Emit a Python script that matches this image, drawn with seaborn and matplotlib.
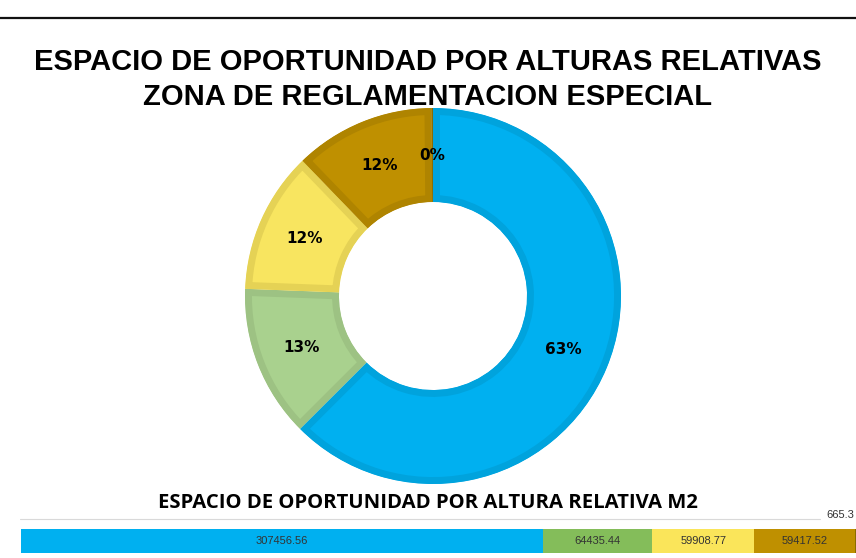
import matplotlib
matplotlib.use("Agg")
import matplotlib.pyplot as plt
from matplotlib.lines import Line2D
import seaborn as sns

# data
categories = ["A", "B", "C", "D", "E"]
areas_m2 = [307456.56, 64435.44, 59908.77, 59417.52, 665.3]
bar_labels = ["307456.56", "64435.44", "59908.77", "59417.52", "665.3"]

pie_fill = ["#00B0F0", "#A9D18E", "#F8E560", "#BF9000", "#9C7A00"]
pie_edge = ["#00A3DD", "#9DC283", "#E5D255", "#AF8400", "#8A6C00"]
strip_colors = ["#00B0F0", "#84BD5A", "#FAE55A", "#BF9000", "#8A6C00"]

sns.set_theme(style="white")
plt.rcParams["font.family"] = ["Liberation Sans", "DejaVu Sans"]

W, H = 856, 558
fig = plt.figure(figsize=(W / 100, H / 100), dpi=100)
fig.patch.set_facecolor("white")

# top rule
fig.add_artist(Line2D([0, 1], [1 - 18 / H, 1 - 18 / H], color="#111111", lw=1.6,
                      transform=fig.transFigure))

for yy, line in [(62, "ESPACIO DE OPORTUNIDAD POR ALTURAS RELATIVAS"),
                 (97, "ZONA DE REGLAMENTACION ESPECIAL")]:
    fig.text(0.5, 1 - yy / H, line, ha="center", va="center", fontsize=21,
             fontweight="bold", color="black")

# donut
cx, cy, r = 433, 296, 188
ax = fig.add_axes([(cx - r) / W, (H - cy - r) / H, 2 * r / W, 2 * r / H])
total = sum(areas_m2)
wedges, texts, autotexts = ax.pie(
    areas_m2, colors=pie_fill, startangle=90, counterclock=False,
    radius=1.0, pctdistance=0.75,
    autopct=lambda p: f"{p:.0f}%",
    wedgeprops=dict(width=0.5, linewidth=10),
    textprops=dict(fontsize=11, fontweight="bold", color="black",
                   family=["DejaVu Sans"]))
for w, ec in zip(wedges, pie_edge):
    w.set_edgecolor(ec)
    w.set_clip_on(True)
    w.set_clip_path(w)
ax.set_xlim(-1, 1)
ax.set_ylim(-1, 1)
ax.axis("off")

# subtitle
fig.text(0.5, 1 - 503 / H, "ESPACIO DE OPORTUNIDAD POR ALTURA RELATIVA M2",
         ha="center", va="center", fontsize=14.6, fontweight="bold",
         family=["Open Sans", "DejaVu Sans"], color="black")

# thin grey rule above strip
fig.add_artist(Line2D([20 / W, 820 / W], [1 - 519 / H, 1 - 519 / H], color="#D9D9D9",
                      lw=0.8, transform=fig.transFigure))

# stacked strip
bx0, bx1, by0, by1 = 21, 856, 529, 553
bax = fig.add_axes([bx0 / W, (H - by1) / H, (bx1 - bx0) / W, (by1 - by0) / H])
left = 0
for v, c, lab in zip(areas_m2, strip_colors, bar_labels):
    bax.barh(0, v, left=left, height=1.0, color=c, edgecolor="none")
    if v > 5000:
        bax.text(left + v / 2, 0, lab, ha="center", va="center", fontsize=8,
                 color="#333333")
    else:
        bax.annotate(lab, (left + v / 2, 0.5), xytext=(-1, 10), textcoords="offset points",
                     ha="right", va="center", fontsize=8, color="#333333",
                     annotation_clip=False)
    left += v
bax.set_xlim(0, total)
bax.set_ylim(-0.5, 0.5)
bax.axis("off")

fig.savefig("out.png", dpi=100, facecolor="white")
